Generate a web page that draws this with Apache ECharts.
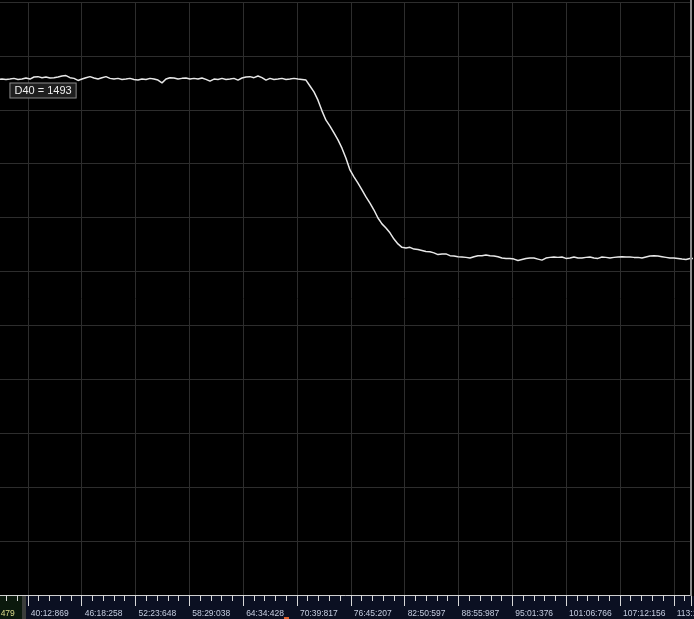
<!DOCTYPE html>
<html>
<head>
<meta charset="utf-8">
<script src="https://cdn.jsdelivr.net/npm/echarts@6/dist/echarts.min.js"></script>
<style>
  html, body { margin: 0; padding: 0; background: #000; }
  #chart1 { width: 694px; height: 619px; }
</style>
</head>
<body>
<div id="chart1"></div>
<script>
//时间单位：秒，起点为 34:07.479
var timeStart = 2047.479;
//刻度间隔 (06:05.390 左右)
var tickStep = 365.38973;
//横轴可见范围（相对起点，秒）
var viewSpan = 4867;
//采样周期（秒）
var sampleStep = 27.15;

//D40 采样值
var d40Values = [
	1493, 1495, 1492, 1493, 1496, 1493, 1492, 1493, 1492, 1493, 1495, 1492, 1493, 1496,
	1493, 1499, 1500, 1497, 1499, 1496, 1497, 1499, 1502, 1503, 1497, 1495, 1489, 1493,
	1497, 1500, 1496, 1493, 1497, 1500, 1495, 1493, 1495, 1492, 1493, 1495, 1492, 1490,
	1493, 1492, 1495, 1493, 1490, 1482, 1493, 1497, 1496, 1493, 1495, 1496, 1493, 1495,
	1493, 1496, 1492, 1487, 1493, 1492, 1495, 1492, 1493, 1495, 1490, 1496, 1499, 1500,
	1497, 1502, 1497, 1490, 1495, 1492, 1493, 1495, 1492, 1493, 1495, 1493, 1492, 1490,
	//下降段
	1473, 1456, 1432, 1401, 1374, 1357, 1337, 1317, 1293, 1264, 1230, 1210,
	1192, 1172, 1152, 1134, 1114, 1091, 1074, 1062, 1048, 1030, 1016, 1006,
	//低位
	1004, 1006, 1001, 1000, 997, 994, 993, 990, 985, 987, 987, 982, 981, 979,
	978, 977, 975, 979, 982, 982, 984, 982, 981, 979, 975, 974, 974, 972,
	968, 971, 974, 975, 975, 972, 969, 975, 977, 978, 977, 978, 974, 975,
	978, 975, 975, 977, 978, 975, 974, 978, 977, 975, 977, 978, 979, 978,
	978, 977, 977, 975, 978, 981, 982, 981, 979, 977, 975, 975, 974, 972,
	971, 974, 974
];

//游标
var cursorName = "D40";
var cursorTime = 244;
var cursorValue = 1493;

//纵轴（不显示数值）
var yMin = 0;
var yMax = 1716;
var yStep = 156;

/**********************************************/
function pad(n, len) {
	var s = String(n);
	while (s.length < len) s = "0" + s;
	return s;
}

//秒 -> 分:秒:毫秒
function fmtTime(v) {
	var ms = Math.round((timeStart + v) * 1000);
	var m = Math.floor(ms / 60000);
	var s = Math.floor(ms / 1000) % 60;
	return m + ":" + pad(s, 2) + ":" + pad(ms % 1000, 3);
}

var seriesData = [];
for (let i = 0; i < d40Values.length; i++) {
	seriesData.push([i * sampleStep, d40Values[i]]);
}

var chart = echarts.init(document.getElementById("chart1"));

var gridColor = "#2d2d2d";

var option = {
	backgroundColor: "#000",
	animation: false,
	grid: {
		left: -26,
		right: 3,
		top: 2,
		bottom: 24,
		containLabel: false,
		outerBoundsMode: "none"
	},
	xAxis: {
		type: "value",
		min: 0,
		max: viewSpan,
		interval: tickStep,
		axisLine: { lineStyle: { color: "#cfcfcf", width: 1 } },
		axisTick: { show: true, length: 11, lineStyle: { color: "#d8d8d8" } },
		minorTick: { show: true, splitNumber: 5, length: 6, lineStyle: { color: "#d8d8d8" } },
		splitLine: { show: true, lineStyle: { color: gridColor, width: 1 } },
		axisLabel: {
			showMinLabel: true,
			showMaxLabel: true,
			align: "left",
			margin: 14,
			padding: [0, 0, 0, 3],
			fontSize: 8.5,
			fontFamily: "Liberation Sans",
			color: function (v) {
				return v < 1 ? "#d9d98a" : "#c6cde0";
			},
			formatter: function (v) {
				var r = v / tickStep;
				if (Math.abs(r - Math.round(r)) > 1e-6) return "";
				return fmtTime(v);
			}
		}
	},
	yAxis: {
		type: "value",
		min: yMin,
		max: yMax,
		interval: yStep,
		axisLine: { show: false },
		axisTick: { show: false },
		axisLabel: { show: false },
		splitLine: { show: true, lineStyle: { color: gridColor, width: 1 } }
	},
	graphic: [
		//底部时间条背景
		{ type: "rect", z: -1, shape: { x: 0, y: 596, width: 694, height: 23 }, style: { fill: "#0b1022" } },
		{ type: "rect", z: -1, shape: { x: 0, y: 596, width: 22, height: 23 }, style: { fill: "#0b190d" } },
		{ type: "rect", z: -1, shape: { x: 22, y: 596, width: 4, height: 23 }, style: { fill: "#3a3d3a" } },
		{ type: "rect", z: 5, shape: { x: 284, y: 617, width: 5, height: 2 }, style: { fill: "#e0602a" } },
		//右侧边框
		{ type: "rect", z: 5, shape: { x: 690, y: 0, width: 2, height: 596 }, style: { fill: "#8c8c8c" } }
	],
	series: [{
		type: "line",
		name: cursorName,
		data: seriesData,
		showSymbol: false,
		symbol: "none",
		lineStyle: { color: "#e8e8e8", width: 1.5 },
		markPoint: {
			symbol: "circle",
			symbolSize: 1,
			itemStyle: { color: "transparent" },
			label: {
				show: true,
				position: [1, 5],
				formatter: cursorName + " = {c}",
				color: "#eeeeee",
				fontSize: 11,
				fontFamily: "Liberation Sans",
				backgroundColor: "#1e1e1e",
				borderColor: "#8a8a8a",
				borderWidth: 1,
				padding: [2, 4, 1, 4]
			},
			data: [{ coord: [cursorTime, cursorValue], value: cursorValue }]
		}
	}]
};

chart.setOption(option);
</script>
</body>
</html>
